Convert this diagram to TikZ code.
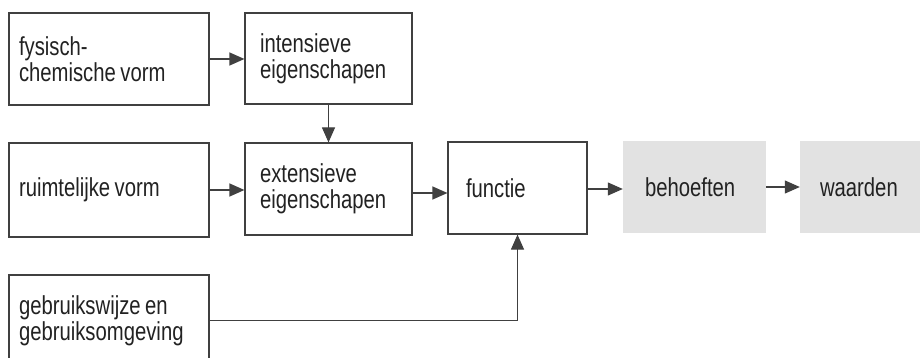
\documentclass[tikz,border=0pt]{standalone}
\usepackage{fontspec}
\setmainfont[FakeStretch=0.78]{Liberation Sans}
\usetikzlibrary{arrows.meta}
\definecolor{ink}{HTML}{222222}
\definecolor{rule}{HTML}{404040}
\definecolor{shade}{HTML}{E2E2E2}
\begin{document}
\begin{tikzpicture}[x=1pt,y=-1pt,
  lbl/.style={font=\fontsize{26}{26}\selectfont, text=ink, align=left, inner ysep=0pt, anchor=center,
    execute at begin node={\spaceskip=4.5pt plus 1pt\relax}},
  framed/.style={lbl, draw=rule, line width=1.2pt},
  shaded/.style={lbl, fill=shade},
  conn/.style={draw=rule, line width=1.2pt, -{Triangle[length=15pt,width=13pt]}},
  plain/.style={draw=rule, line width=1.2pt}]
\useasboundingbox (0,0) rectangle (920,358);
\clip (0,0) rectangle (920,358);
\fill[white] (0,0) rectangle (920,358);

% first column: sources
\node[framed, inner xsep=10pt, text width=180pt, minimum height=92pt] (fys) at (109,59) {fysisch-\\chemische vorm};
\node[framed, inner xsep=10pt, text width=180pt, minimum height=94pt] (ruim) at (109,190) {ruimtelijke vorm};
\node[framed, inner xsep=10pt, text width=180pt, minimum height=91pt] (gebr) at (109,320.5) {gebruikswijze en\\gebruiksomgeving};

% second column: properties
\node[framed, inner xsep=15pt, text width=137pt, minimum height=91pt] (int) at (328.5,58.5) {intensieve\\eigenschapen};
\node[framed, inner xsep=15pt, text width=137pt, minimum height=92pt] (ext) at (328.5,189) {extensieve\\eigenschapen};

% function and outcomes
\node[framed, inner xsep=18pt, text width=103pt, minimum height=92pt] (func) at (517.5,188) {functie};
\node[shaded, inner xsep=22pt, text width=99pt, minimum height=92pt] (beh) at (694.5,187) {behoeften};
\node[shaded, inner xsep=20pt, text width=110pt, minimum height=92pt] (waar) at (875,187) {waarden};

% connectors
\draw[conn] (fys.east) -- (fys.east -| int.west);
\draw[conn] (int.south) -- (ext.north);
\draw[conn] (ruim.east) -- (ruim.east -| ext.west);
\draw[conn] ([yshift=-4pt]ext.east) -- ([yshift=-4pt]ext.east -| func.west);
\draw[conn] ([yshift=-1pt]func.east) -- ([yshift=-1pt]func.east -| beh.west);
\draw[conn] (beh.east) -- (waar.west);
\coordinate (bend) at (gebr.east -| func.south);
\draw[plain] (gebr.east) -- (bend);
\draw[conn] (bend) -- (func.south);
\end{tikzpicture}
\end{document}
